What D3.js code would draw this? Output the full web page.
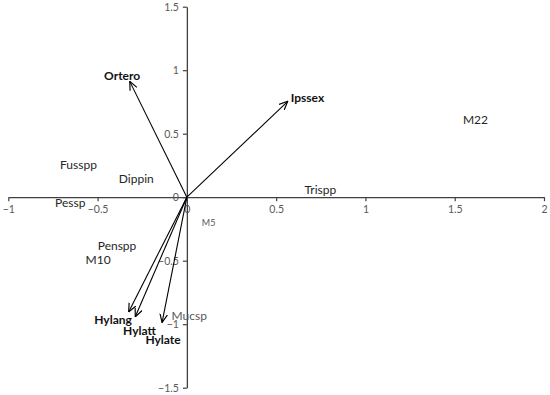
<!DOCTYPE html>
<html>
<head>
<meta charset="utf-8">
<script src="https://cdn.jsdelivr.net/npm/d3@7"></script>
<style>
  body { margin: 0; background: #fff; }
  svg { display: block; font-family: Lato, "Open Sans", sans-serif; }
</style>
</head>
<body>
<script>
// Biplot vectors (arrow tips)
var arrowNames = ["Ortero", "Ipssex", "Hylang", "Hylatt", "Hylate"];
var arrowX = [-0.32, 0.565, -0.326, -0.289, -0.139];
var arrowY = [0.912, 0.755, -0.903, -0.942, -0.987];

// Plain labelled points
var pointNames = ["Fusspp", "Dippin", "Pessp", "Penspp", "M10", "M5", "Trispp", "M22", "Mucsp"];
var pointX = [-0.607, -0.283, -0.653, -0.391, -0.497, 0.122, 0.748, 1.616, 0.013];
var pointY = [0.256, 0.142, -0.043, -0.384, -0.49, -0.205, 0.058, 0.61, -0.93];

// Axis ticks
var xTicks = [-1, -0.5, 0, 0.5, 1, 1.5, 2];
var yTicks = [-1.5, -1, -0.5, 0, 0.5, 1, 1.5];

var width = 550,
    height = 395;

var svg = d3.select("body")
    .append("svg")
    .attr("width", width)
    .attr("height", height);

var x = d3.scaleLinear().domain([-1, 2]).range([8.3, 544]);
var y = d3.scaleLinear().domain([-1.5, 1.5]).range([387.7, 6.7]);

// open arrowhead
svg.append("defs").append("marker")
    .attr("id", "head")
    .attr("viewBox", "0 0 10 10")
    .attr("refX", 9.5)
    .attr("refY", 5)
    .attr("markerUnits", "userSpaceOnUse")
    .attr("markerWidth", 9)
    .attr("markerHeight", 9)
    .attr("orient", "auto")
    .append("path")
    .attr("d", "M0,0.8 L9.5,5 L0,9.2")
    .attr("fill", "none")
    .attr("stroke", "#000")
    .attr("stroke-width", 1.3);

// Axes
var xAxis = svg.append("g")
    .attr("transform", "translate(0," + y(0) + ")")
    .call(d3.axisBottom(x).tickValues(xTicks).tickSize(4).tickSizeOuter(0).tickPadding(4)
        .tickFormat(d3.format("")));

var yAxis = svg.append("g")
    .attr("transform", "translate(" + x(0) + ",0)")
    .call(d3.axisLeft(y).tickValues(yTicks).tickSize(4).tickSizeOuter(0).tickPadding(4)
        .tickFormat(d3.format("")));

[xAxis, yAxis].forEach(function (g) {
    g.select(".domain").attr("stroke", "#404040").attr("stroke-width", 1.3);
    g.selectAll(".tick line").attr("stroke", "#404040").attr("stroke-width", 1.2);
    g.selectAll(".tick text")
        .attr("fill", "#595959")
        .style("font-size", "10.5px")
        .style("font-family", "Lato, sans-serif");
});

// Arrows
var arrows = arrowNames.map(function (n, i) {
    return { name: n, x: arrowX[i], y: arrowY[i] };
});

svg.selectAll(".vec")
    .data(arrows)
    .enter()
    .append("line")
    .attr("class", "vec")
    .attr("x1", x(0))
    .attr("y1", y(0))
    .attr("x2", function (d) { return x(d.x); })
    .attr("y2", function (d) { return y(d.y); })
    .attr("stroke", "#000")
    .attr("stroke-width", 1.1)
    .attr("marker-end", "url(#head)");

// label offsets from the arrow tip
var labelPos = {
    Ortero: { dx: -7.6, dy: -6, anchor: "middle" },
    Ipssex: { dx: 3, dy: -4, anchor: "start" },
    Hylang: { dx: -15.6, dy: 7.6, anchor: "middle" },
    Hylatt: { dx: 4.3, dy: 14.3, anchor: "middle" },
    Hylate: { dx: 1, dy: 17.7, anchor: "middle" }
};

svg.selectAll(".vlab")
    .data(arrows)
    .enter()
    .append("text")
    .attr("class", "vlab")
    .attr("x", function (d) { return x(d.x) + labelPos[d.name].dx; })
    .attr("y", function (d) { return y(d.y) + labelPos[d.name].dy; })
    .attr("dy", "0.35em")
    .attr("text-anchor", function (d) { return labelPos[d.name].anchor; })
    .style("font-size", "12px")
    .style("font-weight", "bold")
    .attr("fill", "#111")
    .text(function (d) { return d.name; });

// Point labels
var points = pointNames.map(function (n, i) {
    return { name: n, x: pointX[i], y: pointY[i] };
});

svg.selectAll(".plab")
    .data(points)
    .enter()
    .append("text")
    .attr("class", "plab")
    .attr("x", function (d) { return x(d.x); })
    .attr("y", function (d) { return y(d.y); })
    .attr("dy", "0.35em")
    .attr("text-anchor", "middle")
    .style("font-size", function (d) { return d.name === "M5" ? "9px" : "12px"; })
    .attr("fill", function (d) {
        return (d.name === "M5" || d.name === "Mucsp") ? "#595959" : "#262626";
    })
    .text(function (d) { return d.name; });
</script>
</body>
</html>
